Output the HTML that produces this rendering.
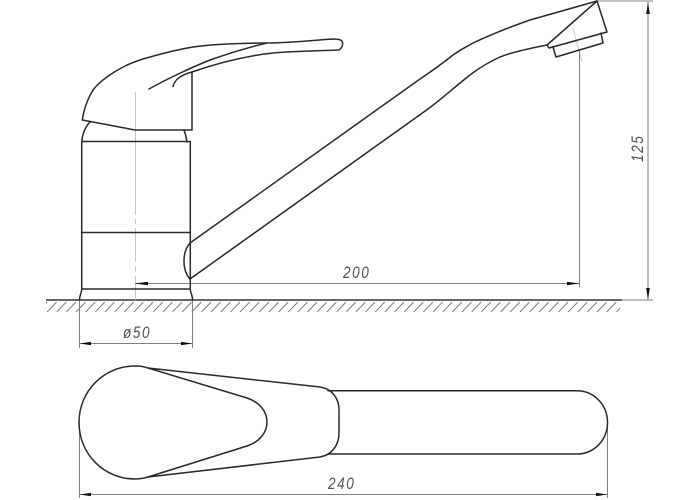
<!DOCTYPE html>
<html>
<head>
<meta charset="utf-8">
<style>
html,body{margin:0;padding:0;background:#fff;}
svg{display:block;}
text{font-family:"Liberation Sans",sans-serif;font-style:italic;font-size:17px;fill:#555;letter-spacing:2px;}
.o{fill:none;stroke:#2a2a2a;stroke-width:1.5;stroke-linejoin:round;stroke-linecap:round;}
.d{fill:none;stroke:#808080;stroke-width:1;}
.c{fill:none;stroke:#c8c8c8;stroke-width:1;}
.a{fill:#111;stroke:none;}
</style>
</head>
<body>
<svg width="700" height="500" viewBox="0 0 700 500" xmlns="http://www.w3.org/2000/svg">
<defs>
<pattern id="h" patternUnits="userSpaceOnUse" x="47" y="302" width="9.65" height="10">
<line x1="0" y1="10" x2="9.65" y2="0" stroke="#666" stroke-width="0.9"/>
</pattern>
</defs>

<!-- ground -->
<rect x="46" y="302" width="574" height="10" fill="url(#h)"/>
<line x1="46" y1="300" x2="622" y2="300" stroke="#666" stroke-width="2"/>

<!-- centre lines -->
<path class="c" d="M135.5 92V215M135.5 219V224M135.5 228V262M135.5 266V272M135.5 276V300"/>
<path class="c" d="M573 28L582 62"/>

<!-- dimension lines -->
<path class="d" d="M135 283.5H579.5M579.5 50V287"/>
<path class="d" d="M597 1H653M622 300H653M648 2V299"/>
<path class="d" d="M79.5 300V348M192.5 300V348M80 343.5H192"/>
<path class="d" d="M79.5 423V498M607.5 423V498M80 494.5H607"/>

<!-- arrowheads -->
<path class="a" d="M135 283.5L148 281.8V285.2Z"/>
<path class="a" d="M579.5 283.5L567 281.8V285.2Z"/>
<path class="a" d="M648 2L646.2 14H649.8Z"/>
<path class="a" d="M648 300L646.2 288H649.8Z"/>
<path class="a" d="M80 343.5L91 341.8V345.2Z"/>
<path class="a" d="M192 343.5L181 341.8V345.2Z"/>
<path class="a" d="M80 494.5L91 492.8V496.2Z"/>
<path class="a" d="M607 494.5L596 492.8V496.2Z"/>

<!-- side view: handle -->
<path class="o" d="M82.300 120C83 115 84 111 85 108C87 101 90 95 93 90C97 85 101 81 107 77C113 72.500 120 68.500 127 65C134 62 142 59 150 57C164 53 178 49.500 193 47C204 45.500 216 44.500 227 44C240 43.300 254 43 267 43C290 43 315 40 333 39C338 39 342 40 342.500 42C343 45 342 48 339 50C315 51 295 51 273 53C245 56 215 64 192 72V130H135L82.300 120Z"/>
<path class="o" d="M149 89C165 80 190 68 210 60C230 53 250 47 267 43"/>
<path class="o" d="M173 86.500C175 79 181 75 192 72"/>
<path class="o" d="M82 142C82 135 85 127 90 122M184 130C185.500 134 186.500 138 187 142"/>

<!-- side view: body -->
<path class="o" d="M81.700 141.500H190.300V289H81.700ZM81.700 232.500H190.300"/>
<path class="o" d="M81.700 289C81.500 293 79.500 296 79.500 300M190.300 289C190.500 293 192.600 296 192.600 300"/>

<!-- side view: spout -->
<path class="o" d="M190 243C182 252 182 270 190 279"/>
<path class="o" d="M190 243L420 79C432 71 443 63 453 55C460 50 466 47 473 43C490 35 510 27 530 20L597 1"/>
<path class="o" d="M190 279L428 109C443 98 457 85 470 75C479 68 489 62 500 57C513 52 527 49 547 45"/>
<path class="o" d="M597 1L607 32L549 48L547 45L597 1Z"/>
<path class="o" d="M553 47L556 57L603 43L601 33"/>

<!-- top view -->
<path class="o" d="M148 368C142 366 139 366 135 366C104 366 79 391 79 422.500C79 454 104 479 135 479C139 479 143 478.500 148 477L320 457C332 455 339 445 339 433V410C339 398 332 389 320 387L148 368Z"/>
<path class="o" d="M148 368L247 398C259 402 267 411 267 422C267 433 259 442 247 446L148 477"/>
<path class="o" d="M328 390.700H577C594 390.700 607.500 405 607.500 422.500C607.500 440 594 454 577 454H328"/>

<!-- labels -->
<text transform="translate(343,278) scale(.8,1)">200</text>
<text transform="translate(123,338) scale(.8,1)">&#248;50</text>
<text transform="translate(328,489) scale(.8,1)">240</text>
<text transform="translate(643,162) rotate(-90) scale(.8,1)">125</text>
</svg>
</body>
</html>
